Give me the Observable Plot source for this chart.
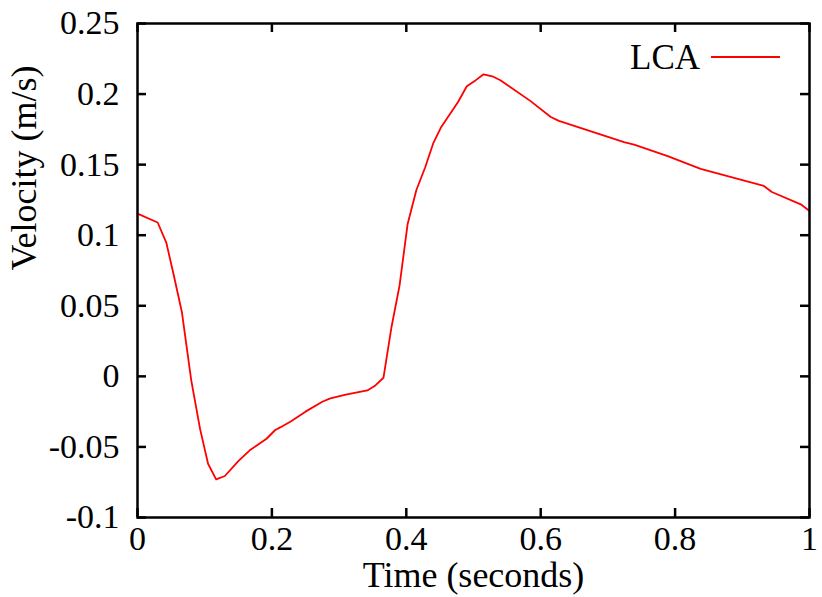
<!DOCTYPE html>
<html>
<head>
<meta charset="utf-8">
<script src="https://cdn.jsdelivr.net/npm/d3@7"></script>
<script src="https://cdn.jsdelivr.net/npm/@observablehq/plot@0.6"></script>
<style>
  html, body { margin: 0; padding: 0; background: #fff; }
  #chart { width: 822px; height: 597px; }
</style>
</head>
<body>
<div id="chart"></div>
<script>
const time = [0, 0.030, 0.043, 0.054, 0.066, 0.080, 0.093, 0.105, 0.117, 0.130,
  0.150, 0.167, 0.192, 0.205, 0.213, 0.228, 0.250, 0.275, 0.287, 0.310,
  0.342, 0.354, 0.366, 0.378, 0.390, 0.402, 0.415, 0.428, 0.440, 0.452,
  0.477, 0.490, 0.503, 0.515, 0.528, 0.540, 0.553, 0.585, 0.615, 0.627,
  0.659, 0.724, 0.739, 0.789, 0.838, 0.932, 0.944, 0.987, 1.0];
const velocity = [0.1153, 0.109, 0.0945, 0.0716, 0.0456, -0.0028, -0.037, -0.0619, -0.073, -0.0706,
  -0.060, -0.0524, -0.0442, -0.038, -0.036, -0.032, -0.025, -0.018, -0.0156, -0.013,
  -0.010, -0.0064, -0.001, 0.035, 0.0645, 0.108, 0.132, 0.148, 0.165, 0.1767,
  0.1944, 0.2055, 0.2097, 0.214, 0.2126, 0.2098, 0.2055, 0.195, 0.1838, 0.181,
  0.176, 0.166, 0.1642, 0.156, 0.147, 0.1349, 0.1306, 0.1219, 0.1172];
const seriesName = "LCA";
const xTicks = [0, 0.2, 0.4, 0.6, 0.8, 1];
const xTickLabels = ["0", "0.2", "0.4", "0.6", "0.8", "1"];
const yTicks = [-0.1, -0.05, 0, 0.05, 0.1, 0.15, 0.2, 0.25];
const yTickLabels = ["-0.1", "-0.05", "0", "0.05", "0.1", "0.15", "0.2", "0.25"];
const xLabel = "Time (seconds)";
const yLabel = "Velocity (m/s)";

const data = time.map((t, i) => ({t, v: velocity[i]}));

const W = 822, H = 597;
const mL = 137, mR = 13, mT = 23, mB = 80;
const fw = W - mL - mR, fh = H - mT - mB;
const tickLen = 9;
const red = "#ff0000";

function legendMark(index, scales, values, dims) {
  const g = d3.create("svg:g");
  const x1 = dims.width - dims.marginRight - 98;
  const x2 = dims.width - dims.marginRight - 29;
  const y = dims.marginTop + 34;
  g.append("text")
    .attr("x", x1 - 11).attr("y", y).attr("dy", "0.35em")
    .attr("text-anchor", "end").attr("fill", "black")
    .attr("font-size", 35)
    .text(seriesName);
  g.append("line")
    .attr("x1", x1).attr("x2", x2).attr("y1", y).attr("y2", y)
    .attr("stroke", red).attr("stroke-width", 1.8);
  return g.node();
}

const chart = Plot.plot({
  width: W, height: H,
  marginLeft: mL, marginRight: mR, marginTop: mT, marginBottom: mB,
  style: {fontFamily: "'Liberation Serif', 'Times New Roman', serif", fontSize: "34px", background: "#fff", color: "black"},
  x: {domain: [0, 1]},
  y: {domain: [-0.1, 0.25]},
  marks: [
    Plot.line(data, {x: "t", y: "v", stroke: red, strokeWidth: 1.8}),
    Plot.tickX(xTicks, {x: d => d, insetTop: fh - tickLen, stroke: "black", strokeWidth: 2.5}),
    Plot.tickX(xTicks, {x: d => d, insetBottom: fh - tickLen, stroke: "black", strokeWidth: 2.5}),
    Plot.tickY(yTicks, {y: d => d, insetRight: fw - tickLen, stroke: "black", strokeWidth: 2.5}),
    Plot.tickY(yTicks, {y: d => d, insetLeft: fw - tickLen, stroke: "black", strokeWidth: 2.5}),
    Plot.frame({stroke: "black", strokeWidth: 2.5}),
    Plot.axisX(xTicks, {tickSize: 0, tickPadding: 8, tickFormat: (d, i) => xTickLabels[i], label: null, fontSize: 34}),
    Plot.axisY(yTicks, {tickSize: 0, tickPadding: 18, tickFormat: (d, i) => yTickLabels[i], label: null, fontSize: 34}),
    Plot.text([xLabel], {frameAnchor: "bottom", dy: 58, lineAnchor: "middle", text: d => d, fontSize: 36, fill: "black"}),
    Plot.text([yLabel], {frameAnchor: "left", dx: -113, rotate: -90, lineAnchor: "middle", text: d => d, fontSize: 36, fill: "black"}),
    legendMark
  ]
});
document.getElementById("chart").appendChild(chart);
</script>
</body>
</html>
